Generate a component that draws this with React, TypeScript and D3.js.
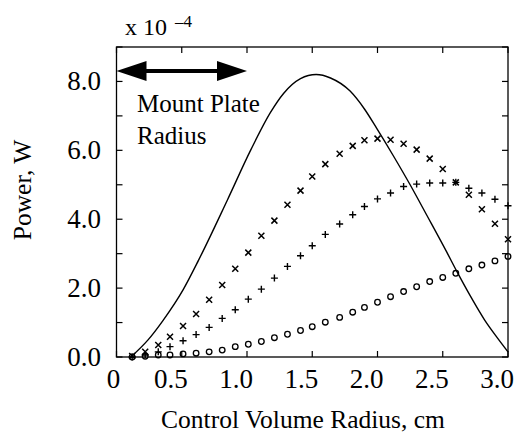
import React from "react";
import * as d3 from "d3";

const xTicks = [0, 0.5, 1.0, 1.5, 2.0, 2.5, 3.0];
const xTickLabels = ["0", "0.5", "1.0", "1.5", "2.0", "2.5", "3.0"];
const yTicks = [0, 2, 4, 6, 8];
const yTickLabels = ["0.0", "2.0", "4.0", "6.0", "8.0"];

const curveX = [0.11, 0.24, 0.36, 0.51, 0.63, 0.85, 1.03, 1.18, 1.28, 1.41, 1.53, 1.64, 1.79, 1.9, 2.0, 2.12, 2.25, 2.38, 2.53, 2.61, 2.71, 2.82, 2.92, 3.0];
const curveY = [0, 0.49, 1.08, 1.95, 2.82, 4.56, 6.02, 7.1, 7.65, 8.08, 8.2, 8.1, 7.72, 7.2, 6.6, 5.85, 5.0, 4.1, 3.05, 2.47, 1.78, 1.08, 0.55, 0.15];

const markerX = [0.12, 0.22, 0.32, 0.41, 0.51, 0.61, 0.71, 0.81, 0.91, 1.01, 1.11, 1.21, 1.31, 1.41, 1.5, 1.6, 1.71, 1.81, 1.9, 2.0, 2.1, 2.2, 2.3, 2.4, 2.5, 2.6, 2.7, 2.8, 2.9, 3.0];
const crossY = [0.03, 0.15, 0.35, 0.59, 0.9, 1.25, 1.66, 2.09, 2.56, 3.03, 3.52, 3.96, 4.42, 4.83, 5.24, 5.6, 5.9, 6.13, 6.29, 6.34, 6.31, 6.19, 6.02, 5.76, 5.46, 5.07, 4.71, 4.29, 3.87, 3.42];
const plusY = [0.0, 0.06, 0.15, 0.3, 0.47, 0.65, 0.86, 1.12, 1.37, 1.68, 1.97, 2.29, 2.63, 2.94, 3.23, 3.56, 3.86, 4.13, 4.37, 4.59, 4.76, 4.95, 5.02, 5.05, 5.05, 5.07, 4.9, 4.76, 4.58, 4.39];
const circleY = [0.0, 0.02, 0.06, 0.06, 0.09, 0.11, 0.15, 0.2, 0.3, 0.37, 0.45, 0.56, 0.66, 0.77, 0.88, 1.01, 1.15, 1.3, 1.44, 1.59, 1.75, 1.9, 2.04, 2.19, 2.31, 2.43, 2.56, 2.67, 2.79, 2.92];

const arrowRange = [0, 1.0];
const arrowLevel = 8.3;

const FONT = "'Times New Roman', Times, 'Liberation Serif', 'DejaVu Serif', serif";

export default function App() {
  const W = 525, H = 443;
  const L = 116.5, R = 508, T = 47, B = 357;
  const x = d3.scaleLinear().domain([0, 3.0]).range([L, R]);
  const y = d3.scaleLinear().domain([0, 9]).range([B, T]);
  const line = d3.line<number>().x((_, i) => x(curveX[i])).y((d) => y(d)).curve(d3.curveMonotoneX);
  const minorY = d3.range(0, 10, 1);
  const tk = 6;
  const ax0 = x(arrowRange[0]), ax1 = x(arrowRange[1]), ay = y(arrowLevel);
  const hl = 30, hh = 10;
  return (
    <div style={{ fontFamily: FONT }}>
    <svg width={W} height={H} fontFamily={FONT} style={{ position: "absolute", left: 0, top: 0, background: "#fff", fontFamily: FONT }}>
      <rect x={0} y={0} width={W} height={H} fill="#fff" />
      <rect x={L} y={T} width={R - L} height={B - T} fill="none" stroke="#000" strokeWidth={1.3} />
      {minorY.map((v) => (
        <g key={"yt" + v}>
          <line x1={L} x2={L + tk} y1={y(v)} y2={y(v)} stroke="#000" strokeWidth={1.2} />
          <line x1={R} x2={R - tk} y1={y(v)} y2={y(v)} stroke="#000" strokeWidth={1.2} />
        </g>
      ))}
      {xTicks.map((v) => (
        <g key={"xt" + v}>
          <line x1={x(v)} x2={x(v)} y1={B} y2={B - tk} stroke="#000" strokeWidth={1.2} />
          <line x1={x(v)} x2={x(v)} y1={T} y2={T + tk} stroke="#000" strokeWidth={1.2} />
        </g>
      ))}
      {yTicks.map((v, i) => (
        <text key={"yl" + v} x={101} y={y(v) + 9} textAnchor="end" fontSize={27} fill="#000">
          {yTickLabels[i]}
        </text>
      ))}
      {xTicks.map((v, i) => (
        <text key={"xl" + v} x={x(v) - (i === 0 ? 3 : 11)} y={388} textAnchor="middle" fontSize={27} fill="#000">
          {xTickLabels[i]}
        </text>
      ))}
      <text x={303} y={428} textAnchor="middle" fontSize={25.5} fill="#000">
        Control Volume Radius, cm
      </text>
      <text transform="translate(31,190) rotate(-90)" textAnchor="middle" fontSize={25.5} fill="#000">
        Power, W
      </text>
      <text x={125} y={35} fontSize={24} fill="#000">
        x 10
      </text>
      <text x={175} y={27} fontSize={17} fill="#000">
        –4
      </text>
      <text x={137} y={112} fontSize={25} fill="#000">Mount Plate</text>
      <text x={137} y={144} fontSize={25} fill="#000">Radius</text>
      <line x1={ax0 + hl - 2} x2={ax1 - hl + 2} y1={ay} y2={ay} stroke="#000" strokeWidth={4} />
      <path d={`M${ax0},${ay} L${ax0 + hl},${ay - hh} L${ax0 + hl},${ay + hh} Z`} fill="#000" />
      <path d={`M${ax1},${ay} L${ax1 - hl},${ay - hh} L${ax1 - hl},${ay + hh} Z`} fill="#000" />
      <path d={line(curveY) || ""} fill="none" stroke="#000" strokeWidth={1.4} />
      {markerX.map((v, i) => {
        const cx = x(v), cy = y(crossY[i]);
        return (
          <path key={"c" + i} d={`M${cx - 3},${cy - 3}L${cx + 3},${cy + 3}M${cx - 3},${cy + 3}L${cx + 3},${cy - 3}`} stroke="#000" strokeWidth={1.5} />
        );
      })}
      {markerX.map((v, i) => {
        const cx = x(v), cy = y(plusY[i]);
        return (
          <path key={"p" + i} d={`M${cx - 3.5},${cy}L${cx + 3.5},${cy}M${cx},${cy - 3.5}L${cx},${cy + 3.5}`} stroke="#000" strokeWidth={1.4} />
        );
      })}
      {markerX.map((v, i) => (
        <circle key={"o" + i} cx={x(v)} cy={y(circleY[i])} r={2.8} fill="none" stroke="#000" strokeWidth={1.3} />
      ))}
    </svg>
    </div>
  );
}
